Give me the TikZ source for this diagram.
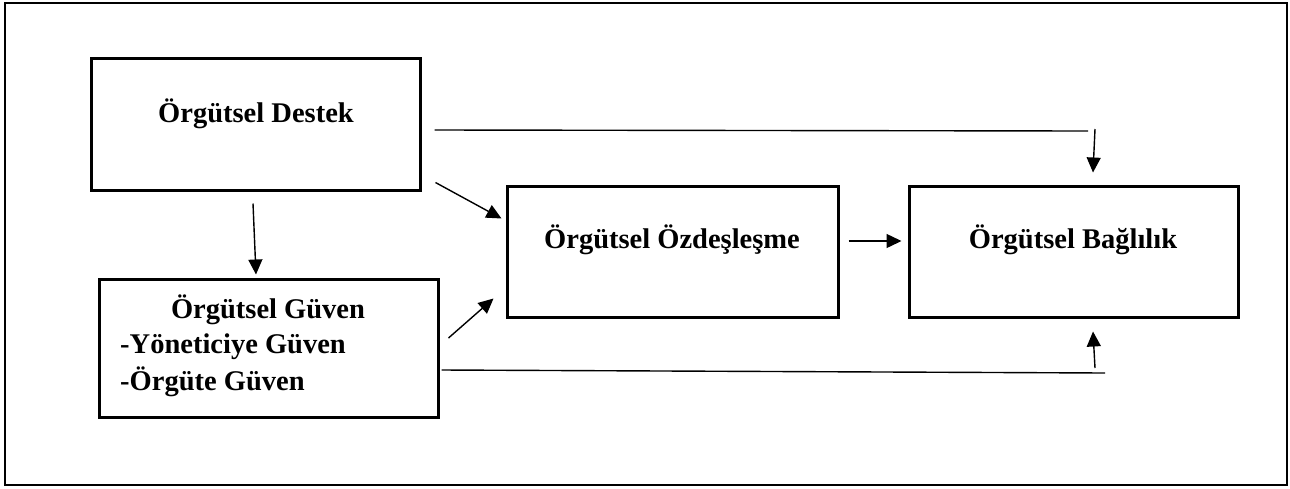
\documentclass[tikz,border=0pt]{standalone}
\usepackage{fontspec}
\setmainfont{Liberation Serif}
\usetikzlibrary{arrows.meta,calc}
\begin{document}
\begin{tikzpicture}[x=1pt,y=-1pt,
  box/.style={draw,line width=3pt,inner sep=0pt,rectangle},
  lbl/.style={font=\fontsize{28.5}{34}\selectfont\bfseries,anchor=base,inner sep=0pt},
  arr/.style={line width=1.4pt,-{Triangle[length=15pt,width=14pt]}},
  ln/.style={line width=1.4pt}]
\useasboundingbox (0,0) rectangle (1290,488);
\draw[line width=2.6pt] (5,3) rectangle (1287,485);
% boxes
\node[box,minimum width=329pt,minimum height=132pt] (destek) at (255.5,124) {};
\node[box,minimum width=339pt,minimum height=138pt] (guven) at (268.5,348) {};
\node[box,minimum width=331pt,minimum height=131pt] (ozd) at (672.5,251.5) {};
\node[box,minimum width=329pt,minimum height=131pt] (bag) at (1073.5,251.5) {};
% labels
\node[lbl] (destekT) at (256,122) {Örgütsel Destek};
\node[lbl] (ozdT) at (672,248) {Örgütsel Özdeşleşme};
\node[lbl] (bagT) at (1073,248) {Örgütsel Bağlılık};
\node[lbl] (guvenT) at (268,318) {Örgütsel Güven};
\node[lbl,anchor=base west] (guven1) at (120,353) {-Yöneticiye Güven};
\node[lbl,anchor=base west] (guven2) at (120,390) {-Örgüte Güven};
% connectors
\draw[arr] ($(destek.south)+(-2.5,12)$) -- ($(guven.north)+(-12.5,-3)$);
\draw[arr] ($(destek.south east)+(14,-9)$) -- ($(ozd.north west)+(-4,34)$);
\draw[arr] ($(guven.east)+(9,-10)$) -- ($(ozd.south west)+(-12,-20)$);
\draw[arr] ($(ozd.east)+(9,-10.5)$) -- ($(bag.west)+(-6,-10.5)$);
\coordinate (tr) at (1088,131);
\coordinate (trs) at (1095,129);
\draw[ln] ($(destek.east)+(13,6)$) -- (tr);
\draw[arr] (trs) -- ($(bag.north)+(19.5,-12)$);
\coordinate (br) at (1105,373);
\coordinate (brs) at (1095,368);
\draw[ln] ($(guven.east)+(2,22)$) -- (br);
\draw[arr] (brs) -- ($(bag.south)+(19.5,13)$);
\end{tikzpicture}
\end{document}
